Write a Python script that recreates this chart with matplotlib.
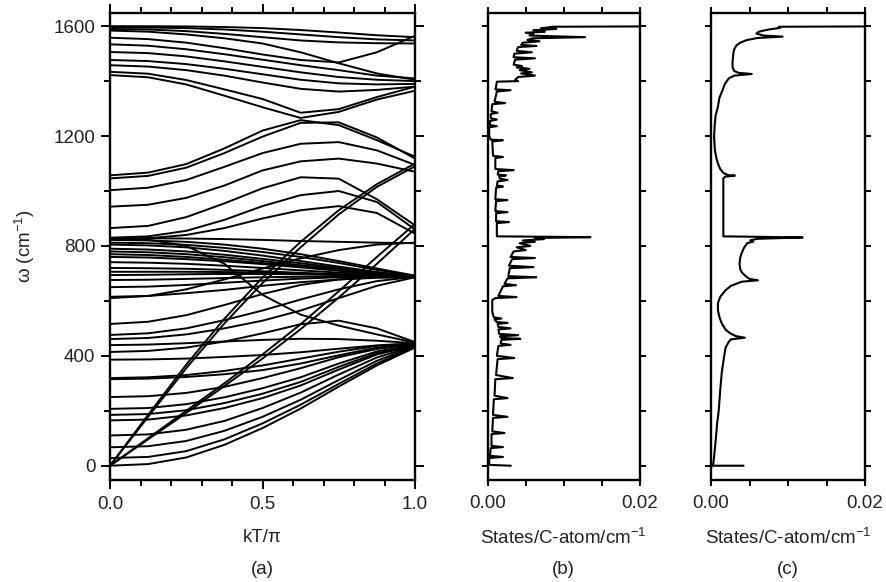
import matplotlib
matplotlib.use('Agg')
import matplotlib.pyplot as plt
from matplotlib.ticker import MultipleLocator, FixedLocator

plt.rcParams['font.family'] = ['Liberation Sans', 'DejaVu Sans']
plt.rcParams['mathtext.fontset'] = 'custom'
plt.rcParams['mathtext.rm'] = 'Liberation Sans'
plt.rcParams['mathtext.default'] = 'regular'

k_pts = [0, 0.125, 0.25, 0.375, 0.5, 0.625, 0.75, 0.875, 1.0]

# upper optical branches (cm^-1)
upper_bands = [
    [1600, 1600, 1599, 1597, 1593, 1586, 1577, 1567, 1560],
    [1596, 1595, 1593, 1588, 1580, 1570, 1560, 1552, 1548],
    [1590, 1588, 1582, 1572, 1560, 1548, 1541, 1538, 1537],
    [1584, 1580, 1570, 1556, 1537, 1505, 1465, 1428, 1405],
    [1558, 1553, 1540, 1520, 1497, 1477, 1468, 1505, 1565],
    [1534, 1529, 1516, 1498, 1478, 1458, 1440, 1420, 1410],
    [1506, 1502, 1490, 1472, 1452, 1432, 1415, 1405, 1400],
    [1477, 1473, 1462, 1445, 1425, 1405, 1392, 1388, 1390],
    [1458, 1453, 1440, 1420, 1395, 1372, 1362, 1368, 1380],
    [1434, 1427, 1404, 1370, 1335, 1285, 1298, 1342, 1380],
    [1422, 1414, 1388, 1347, 1305, 1266, 1288, 1333, 1365],
]

# middle branches (850-1260)
middle_bands = [
    [1057, 1067, 1098, 1155, 1220, 1258, 1240, 1185, 1125],
    [1046, 1055, 1085, 1138, 1198, 1248, 1250, 1195, 1118],
    [1003, 1012, 1040, 1088, 1138, 1172, 1178, 1148, 1095],
    [943, 950, 975, 1020, 1075, 1108, 1118, 1100, 1070],
    [865, 873, 905, 955, 1010, 1050, 1045, 970, 875],
    [830, 835, 855, 895, 945, 985, 1000, 960, 860],
    [825, 828, 840, 865, 900, 930, 945, 920, 845],
]

# branches around 600-830 meeting near 690 at the zone edge
mid_low_bands = [
    [822, 820, 815, 805, 790, 770, 745, 718, 692],
    [812, 810, 804, 793, 778, 760, 738, 713, 691],
    [805, 802, 795, 782, 765, 745, 725, 705, 690],
    [790, 787, 780, 768, 753, 737, 720, 703, 690],
    [780, 777, 770, 759, 745, 730, 715, 701, 689],
    [770, 767, 760, 750, 738, 725, 712, 700, 689],
    [760, 758, 752, 744, 734, 722, 710, 698, 688],
    [741, 739, 735, 728, 720, 711, 703, 695, 688],
    [720, 719, 717, 713, 708, 702, 697, 692, 688],
    [706, 706, 706, 705, 703, 700, 696, 691, 687],
    [694, 695, 697, 698, 698, 697, 694, 690, 687],
    [676, 677, 680, 683, 686, 688, 689, 688, 686],
    [650, 652, 658, 666, 674, 681, 686, 688, 687],
    [615, 618, 628, 640, 655, 668, 678, 684, 686],
    [828, 828, 827, 825, 822, 818, 815, 812, 810],
    [828, 823, 800, 735, 622, 550, 510, 478, 448],
    [610, 618, 642, 678, 718, 755, 785, 805, 812],
    [516, 524, 548, 585, 625, 658, 678, 687, 690],
    [476, 482, 500, 530, 565, 605, 642, 672, 688],
    [461, 465, 478, 500, 528, 565, 610, 655, 686],
]

# low branches meeting near 440 at the zone edge
low_bands = [
    [0, 6, 30, 76, 137, 208, 288, 365, 430],
    [28, 32, 53, 96, 154, 222, 298, 372, 432],
    [67, 71, 90, 127, 178, 240, 312, 382, 434],
    [110, 114, 131, 163, 210, 266, 332, 394, 436],
    [165, 168, 183, 210, 246, 292, 350, 405, 438],
    [185, 188, 202, 228, 262, 305, 360, 410, 439],
    [207, 210, 224, 249, 282, 322, 372, 416, 440],
    [250, 253, 265, 287, 319, 355, 395, 425, 442],
    [315, 317, 323, 333, 348, 372, 402, 430, 444],
    [319, 322, 330, 345, 365, 390, 415, 436, 445],
    [386, 387, 390, 396, 403, 413, 426, 438, 446],
    [439, 441, 446, 452, 458, 462, 461, 455, 446],
    [414, 418, 430, 452, 482, 515, 528, 500, 450],
]

# steep acoustic-like branches from the origin
steep_bands = [
    [0, 185, 368, 535, 685, 815, 930, 1025, 1100],
    [0, 178, 355, 518, 665, 795, 915, 1015, 1090],
    [0, 100, 200, 300, 405, 515, 635, 760, 880],
    [0, 96, 192, 290, 390, 497, 612, 735, 862],
]

# phonon DOS of the tube, panel (b)
dos_b_freq = [1600, 1598, 1592, 1590, 1585, 1580, 1576, 1572, 1566, 1560, 1556, 1550, 1545,
              1540, 1532, 1528, 1524, 1510, 1505, 1500, 1487, 1483, 1478, 1460, 1455, 1450,
              1445, 1440, 1432, 1428, 1420, 1415, 1405, 1400, 1398, 1380, 1370, 1367, 1362,
              1325, 1320, 1316, 1290, 1285, 1280, 1265, 1260, 1255, 1240, 1236, 1232, 1200,
              1187, 1185, 1180, 1128, 1124, 1120, 1080, 1076, 1072, 1060, 1057, 1053, 1045,
              1040, 1035, 1020, 1016, 1012, 970, 967, 963, 927, 923, 919, 890, 887, 883, 835,
              832, 829, 825, 820, 815, 810, 800, 795, 785, 780, 760, 756, 752, 728, 723, 719,
              690, 686, 682, 662, 657, 653, 630, 618, 614, 610, 603, 560, 540, 536, 532, 523,
              520, 516, 505, 500, 496, 480, 475, 471, 465, 462, 458, 445, 440, 436, 400, 392,
              388, 330, 319, 315, 255, 246, 242, 185, 178, 174, 125, 119, 115, 72, 68, 64, 36,
              32, 28, 3, 0]
dos_b_val = [0.03, 0.0085, 0.007, 0.009, 0.006, 0.0075, 0.005, 0.006, 0.0055, 0.0128, 0.006,
             0.0052, 0.0068, 0.0046, 0.0044, 0.0064, 0.0040, 0.0038, 0.0058, 0.0035, 0.0034,
             0.0062, 0.0036, 0.0034, 0.0045, 0.0038, 0.0055, 0.0042, 0.0058, 0.0044, 0.0062,
             0.0040, 0.0036, 0.0040, 0.0012, 0.0011, 0.0010, 0.0030, 0.0012, 0.0009, 0.0023,
             0.0006, 0.0005, 0.0013, 0.0004, 0.0004, 0.0012, 0.0003, 0.0003, 0.0012, 0.0002,
             0.0002, 0.0004, 0.0020, 0.0006, 0.0007, 0.0020, 0.0010, 0.0010, 0.0034, 0.0014,
             0.0013, 0.0024, 0.0015, 0.0016, 0.0026, 0.0013, 0.0012, 0.0020, 0.0011, 0.0010,
             0.0026, 0.0011, 0.0010, 0.0026, 0.0011, 0.0011, 0.0028, 0.0012, 0.0012, 0.0135,
             0.0062, 0.0074, 0.0046, 0.0062, 0.0042, 0.0056, 0.0038, 0.0050, 0.0034, 0.0030,
             0.0062, 0.0032, 0.0028, 0.0060, 0.0029, 0.0027, 0.0064, 0.0026, 0.0022, 0.0037,
             0.0020, 0.0016, 0.0014, 0.0038, 0.0010, 0.0006, 0.0006, 0.0008, 0.0018, 0.0009,
             0.0012, 0.0026, 0.0013, 0.0014, 0.0030, 0.0014, 0.0015, 0.0040, 0.0016, 0.0018,
             0.0043, 0.0018, 0.0017, 0.0030, 0.0014, 0.0012, 0.0035, 0.0013, 0.0011, 0.0033,
             0.0010, 0.0009, 0.0026, 0.0008, 0.0007, 0.0026, 0.0007, 0.0006, 0.0022, 0.0005,
             0.0005, 0.0020, 0.0004, 0.0003, 0.0020, 0.0002, 0.0002, 0.0030]

# phonon DOS of 2D graphite, panel (c)
dos_c_freq = [1600, 1598, 1594, 1588, 1580, 1573, 1566, 1562, 1557, 1549, 1540, 1530, 1515,
              1500, 1470, 1450, 1437, 1430, 1426, 1420, 1410, 1390, 1367, 1340, 1307, 1275,
              1246, 1200, 1149, 1120, 1100, 1080, 1066, 1058, 1056, 1052, 1045, 1000, 900,
              835, 831, 826, 820, 816, 810, 794, 775, 758, 734, 715, 704, 690, 680, 675, 670,
              655, 639, 615, 592, 566, 540, 518, 495, 482, 472, 466, 460, 451, 430, 397, 340,
              275, 200, 155, 90, 33, 8, 2, 0, 0]
dos_c_val = [0.03, 0.0088, 0.0090, 0.0075, 0.0062, 0.0059, 0.0068, 0.0093, 0.0060, 0.0046,
             0.0038, 0.0033, 0.0030, 0.0029, 0.0028, 0.0028, 0.0030, 0.0036, 0.0053, 0.0030,
             0.0023, 0.0018, 0.0015, 0.0011, 0.0009, 0.0006, 0.0005, 0.0004, 0.0005, 0.0007,
             0.0009, 0.0012, 0.0016, 0.0022, 0.0031, 0.0018, 0.0016, 0.0016, 0.0016, 0.0016,
             0.0119, 0.0060, 0.0051, 0.0055, 0.0047, 0.0043, 0.0040, 0.0038, 0.0037, 0.0038,
             0.0040, 0.0045, 0.0050, 0.0061, 0.0040, 0.0026, 0.0019, 0.0012, 0.0009, 0.0009,
             0.0011, 0.0014, 0.0019, 0.0025, 0.0032, 0.0044, 0.0026, 0.0023, 0.0019, 0.0017,
             0.0014, 0.0012, 0.0010, 0.0008, 0.0006, 0.0004, 0.0003, 0.0002, 0.0, 0.0042]

W, H = 886, 582
fig = plt.figure(figsize=(W / 100, H / 100), dpi=100)


def px_axes(x0, x1, y0, y1):
    return fig.add_axes([x0 / W, 1 - y1 / H, (x1 - x0) / W, (y1 - y0) / H])


fs = 13.5


def style(ax, major_len, minor_len):
    for s in ax.spines.values():
        s.set_linewidth(1.7)
    ax.tick_params(which='both', direction='out', top=True, right=True,
                   width=1.4, labelsize=fs, colors='black', labelcolor='#222222')
    ax.tick_params(which='major', length=major_len, pad=4)
    ax.tick_params(which='minor', length=minor_len)
    ax.set_ylim(-52, 1648)


ax_a = px_axes(110, 415, 13, 480)
ax_b = px_axes(487.7, 640, 13, 480)
ax_c = px_axes(711, 865, 13, 480)

lw = 1.4
for group in [upper_bands, middle_bands, mid_low_bands, low_bands, steep_bands]:
    for band in group:
        ax_a.plot(k_pts, band, color='black', lw=lw, solid_joinstyle='round')

ax_a.set_xlim(0, 1)
style(ax_a, 6.5, 4)
ax_a.xaxis.set_major_locator(FixedLocator([0, 0.5, 1.0]))
ax_a.set_xticklabels(['0.0', '0.5', '1.0'])
ax_a.xaxis.set_minor_locator(MultipleLocator(0.1))
ax_a.yaxis.set_major_locator(MultipleLocator(400))
ax_a.yaxis.set_minor_locator(MultipleLocator(200))
ax_a.tick_params(axis='x', pad=5)

ax_b.plot(dos_b_val, dos_b_freq, color='black', lw=1.5)
ax_c.plot(dos_c_val, dos_c_freq, color='black', lw=1.5)

for ax in (ax_b, ax_c):
    ax.set_xlim(0, 0.02)
    style(ax, 4, 4)
    ax.xaxis.set_major_locator(FixedLocator([0, 0.02]))
    ax.set_xticklabels(['0.00', '0.02'])
    ax.xaxis.set_minor_locator(MultipleLocator(0.005))
    ax.yaxis.set_major_locator(MultipleLocator(200))
    ax.set_yticklabels([])
    ax.tick_params(axis='x', pad=7)

tc = '#222222'
fig.text(25 / W, 1 - 246 / H, 'ω (cm$^{-1}$)', rotation=90, ha='center', va='center', fontsize=fs, color=tc)
fig.text(262.5 / W, 1 - 538 / H, 'kT/π', ha='center', va='center', fontsize=fs, color=tc)
fig.text(262.5 / W, 1 - 569 / H, '(a)', ha='center', va='center', fontsize=fs, color=tc)
fig.text(563 / W, 1 - 538 / H, 'States/C-atom/cm$^{-1}$', ha='center', va='center', fontsize=fs, color=tc)
fig.text(563 / W, 1 - 569 / H, '(b)', ha='center', va='center', fontsize=fs, color=tc)
fig.text(788 / W, 1 - 538 / H, 'States/C-atom/cm$^{-1}$', ha='center', va='center', fontsize=fs, color=tc)
fig.text(788 / W, 1 - 569 / H, '(c)', ha='center', va='center', fontsize=fs, color=tc)

fig.savefig('out.png', dpi=100)
